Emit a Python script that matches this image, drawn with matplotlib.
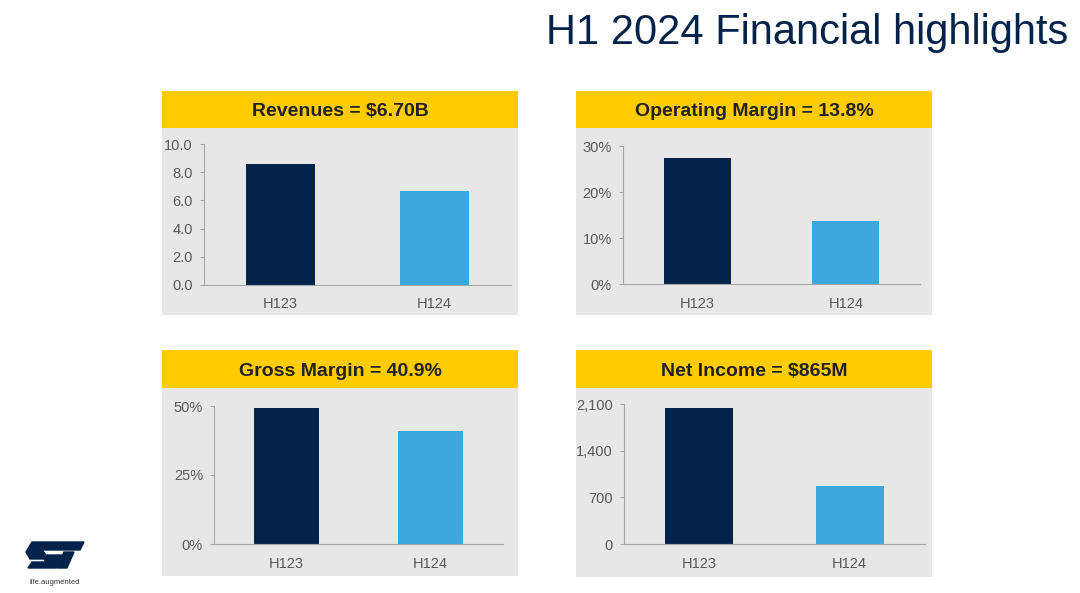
import matplotlib
matplotlib.use("Agg")
import matplotlib.pyplot as plt
from matplotlib.patches import Rectangle, Polygon
from matplotlib.ticker import FuncFormatter

plt.rcParams['font.family'] = ['Liberation Sans', 'DejaVu Sans']

W, H = 1080, 593
categories = ["H123", "H124"]
revenues = [8.6, 6.70]
op_margin = [27.4, 13.8]
gross_margin = [49.4, 40.9]
net_income = [2045, 865]

titles = ["Revenues = $6.70B", "Operating Margin = 13.8%",
          "Gross Margin = 40.9%", "Net Income = $865M"]
yticks_list = [[0, 2, 4, 6, 8, 10], [0, 10, 20, 30], [0, 25, 50], [0, 700, 1400, 2100]]
ylims = [10, 30, 50, 2100]
fmts = [lambda v, p: f"{v:.1f}", lambda v, p: f"{v:.0f}%",
        lambda v, p: f"{v:.0f}%", lambda v, p: f"{v:,.0f}"]
values = [revenues, op_margin, gross_margin, net_income]

NAVY = "#03234B"
LIGHT = "#39A9DC"
YELLOW = "#FFCC00"
GRAY = "#E7E7E7"
TXT = "#595959"

fig = plt.figure(figsize=(W / 100, H / 100), dpi=100)
fig.patch.set_facecolor("white")

def fx(px):
    return px / W

def fy(py):
    return 1 - py / H

def rect(x0, y0, x1, y1, color):
    fig.patches.append(Rectangle((fx(x0), fy(y1)), fx(x1 - x0), (y1 - y0) / H,
                                 transform=fig.transFigure, facecolor=color,
                                 edgecolor="none", zorder=-10))

# panel boxes: (header x0, x1, header y0, header y1, gray bottom), axes box (x0, x1, ytop, ybottom)
panels = [
    ((162, 518, 91, 128, 315), (204, 511, 144, 285)),
    ((576, 932, 91, 128, 315), (623, 920, 146, 284)),
    ((162, 518, 350, 388, 576), (214, 503, 406, 544)),
    ((576, 932, 350, 388, 577), (624, 925, 404, 544)),
]

for i, ((hx0, hx1, hy0, hy1, gb), (ax0, ax1, ayt, ayb)) in enumerate(panels):
    rect(hx0, hy0, hx1, hy1, YELLOW)
    rect(hx0, hy1, hx1, gb, GRAY)
    fig.text(fx((hx0 + hx1) / 2), fy((hy0 + hy1) / 2), titles[i], ha="center",
             va="center_baseline", fontsize=14, fontweight="bold", color="#222222")
    ax = fig.add_axes([fx(ax0), fy(ayb), fx(ax1 - ax0), (ayb - ayt) / H])
    ax.set_facecolor("none")
    ax.bar(range(len(categories)), values[i], width=0.45, color=[NAVY, LIGHT],
           edgecolor="none")
    ax.set_xlim(-0.5, 1.5)
    ax.set_ylim(0, ylims[i])
    ax.set_yticks(yticks_list[i])
    ax.yaxis.set_major_formatter(FuncFormatter(fmts[i]))
    ax.set_xticks(range(len(categories)))
    ax.set_xticklabels(categories)
    for s in ["top", "right"]:
        ax.spines[s].set_visible(False)
    for s in ["left", "bottom"]:
        ax.spines[s].set_color("#A6A6A6")
        ax.spines[s].set_linewidth(0.8)
    ax.tick_params(axis="y", length=3, color="#A6A6A6", labelsize=10.5, labelcolor=TXT, pad=5)
    ax.tick_params(axis="x", length=0, labelsize=10.5, labelcolor=TXT, pad=9)

# title
fig.text(fx(1068), fy(33), "H1 2024 Financial highlights", ha="right", va="center",
         fontsize=30, color=NAVY)

# logo approximation
logo = fig.add_axes([fx(22), fy(576), fx(68), 36 / H])
logo.axis("off")
logo.set_xlim(0, 68)
logo.set_ylim(0, 36)
logo.add_patch(Polygon([[10, 34], [62, 34], [58, 26], [20, 26], [24, 21], [40, 21], [34, 8], [6, 8], [10, 14], [24, 14], [22, 17], [8, 17], [4, 24]], closed=True, color=NAVY))
logo.add_patch(Polygon([[42, 24], [52, 24], [45, 8], [35, 8]], closed=True, color=NAVY))
fig.text(fx(55), fy(583), "life.augmented", ha="center", va="center", fontsize=5.5, color="#333333")

fig.savefig("out.png", dpi=100)
